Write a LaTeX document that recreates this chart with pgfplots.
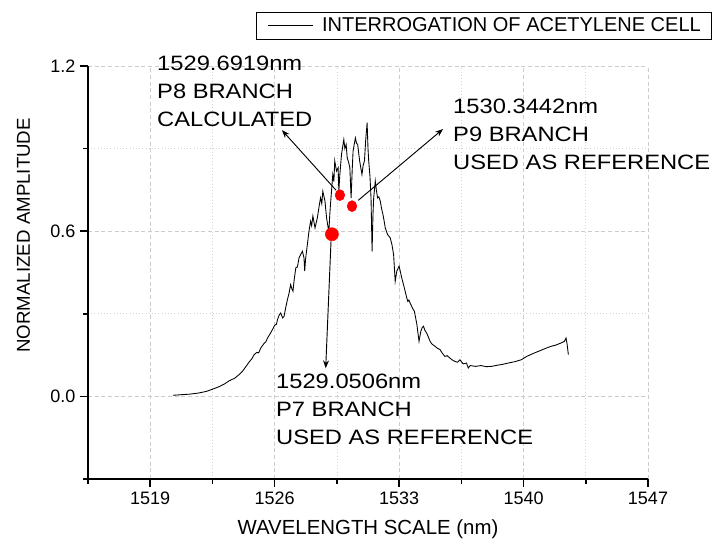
\documentclass[border=0pt]{standalone}
\usepackage{fontspec}
\setmainfont{Liberation Sans}
\newfontfamily\annfont[FakeStretch=1.14]{Liberation Sans}
\usepackage{pgfplots}
\pgfplotsset{compat=1.18}
\usetikzlibrary{arrows.meta}

\newcommand{\annf}{\annfont\fontsize{15.6}{21}\selectfont}

\pgfplotstableread{
x y
1520.28 0.004
1520.7 0.006
1521.2 0.008
1521.7 0.012
1522.15 0.018
1522.5 0.026
1522.9 0.036
1523.2 0.046
1523.45 0.057
1523.75 0.066
1524.0 0.079
1524.2 0.092
1524.39 0.109
1524.6 0.128
1524.7 0.135
1524.85 0.152
1525.0 0.160
1525.1 0.158
1525.22 0.176
1525.4 0.192
1525.5 0.198
1525.6 0.212
1525.75 0.228
1525.87 0.242
1526.0 0.258
1526.1 0.262
1526.16 0.279
1526.25 0.295
1526.34 0.303
1526.45 0.285
1526.53 0.291
1526.62 0.322
1526.72 0.352
1526.8 0.372
1526.9 0.406
1526.97 0.39
1527.03 0.382
1527.1 0.425
1527.19 0.467
1527.28 0.47
1527.37 0.503
1527.46 0.515
1527.56 0.527
1527.65 0.503
1527.69 0.455
1527.74 0.50
1527.84 0.552
1527.93 0.60
1528.02 0.636
1528.08 0.62
1528.15 0.655
1528.27 0.612
1528.4 0.648
1528.5 0.69
1528.58 0.721
1528.65 0.70
1528.71 0.745
1528.83 0.709
1528.92 0.648
1529.01 0.612
1529.05 0.600
1529.1 0.66
1529.14 0.697
1529.27 0.806
1529.33 0.78
1529.38 0.855
1529.48 0.818
1529.57 0.83
1529.61 0.745
1529.66 0.80
1529.76 0.879
1529.89 0.933
1529.95 0.90
1530.02 0.915
1530.08 0.867
1530.16 0.85
1530.23 0.83
1530.30 0.72
1530.36 0.82
1530.41 0.891
1530.54 0.939
1530.6 0.92
1530.67 0.915
1530.78 0.855
1530.91 0.806
1530.98 0.84
1531.05 0.855
1531.12 0.93
1531.2 0.994
1531.25 0.90
1531.29 0.855
1531.36 0.80
1531.42 0.721
1531.48 0.527
1531.53 0.66
1531.57 0.721
1531.66 0.782
1531.72 0.75
1531.79 0.721
1531.86 0.725
1531.94 0.709
1532.02 0.68
1532.09 0.661
1532.15 0.64
1532.22 0.612
1532.35 0.588
1532.5 0.576
1532.6 0.55
1532.69 0.515
1532.78 0.418
1532.87 0.455
1533.0 0.473
1533.15 0.43
1533.25 0.405
1533.34 0.382
1533.42 0.36
1533.49 0.345
1533.55 0.35
1533.62 0.339
1533.75 0.321
1533.86 0.309
1533.93 0.285
1534.0 0.261
1534.12 0.200
1534.22 0.236
1534.3 0.25
1534.37 0.255
1534.45 0.24
1534.55 0.23
1534.65 0.215
1534.74 0.2
1534.85 0.19
1535.02 0.182
1535.15 0.175
1535.3 0.17
1535.45 0.155
1535.58 0.145
1535.7 0.148
1535.86 0.139
1536.0 0.132
1536.14 0.127
1536.28 0.124
1536.42 0.133
1536.6 0.118
1536.79 0.121
1536.89 0.103
1537.0 0.112
1537.3 0.109
1537.6 0.112
1537.9 0.108
1538.19 0.109
1538.5 0.113
1538.8 0.116
1539.13 0.121
1539.5 0.126
1539.87 0.133
1540.2 0.146
1540.62 0.158
1541.0 0.168
1541.3 0.176
1541.55 0.182
1541.8 0.186
1542.11 0.194
1542.3 0.20
1542.39 0.212
1542.45 0.19
1542.52 0.152
}\spectrum

\begin{document}
\begin{tikzpicture}
\begin{axis}[
  width=420pt, height=309.75pt, scale only axis,
  xmin=1515.5, xmax=1547, ymin=-0.3, ymax=1.2,
  axis x line*=bottom, axis y line*=left,
  axis line style={-, line width=1.1pt},
  xtick={1519,1526,1533,1540,1547},
  minor xtick={1515.5,1522.5,1529.5,1536.5,1543.5},
  ytick={0,0.6,1.2},
  minor ytick={-0.3,0.3,0.9},
  tick align=outside,
  major tick length=6pt, minor tick length=3.5pt,
  every tick/.style={black, line width=1.1pt},
  /pgf/number format/assume math mode=true,
  xticklabel style={/pgf/number format/.cd, fixed, 1000 sep={}},
  yticklabel style={/pgf/number format/.cd, fixed, fixed zerofill, precision=1},
  ticklabel style={font=\fontsize{13.5}{15}\selectfont},
  grid=both,
  major grid style={gray!40, dash pattern=on 3pt off 2pt, line width=0.5pt},
  minor grid style={gray!35, dash pattern=on 0.8pt off 1.6pt, line width=0.5pt},
  xlabel={WAVELENGTH SCALE (nm)}, ylabel={NORMALIZED AMPLITUDE},
  xlabel style={font=\fontsize{15.3}{18}\selectfont, at={([yshift=-42pt]axis description cs:0.5,0)}, anchor=base},
  ylabel style={font=\fontsize{14}{17}\selectfont, at={([xshift=-43.5pt]axis description cs:0,0.59)}, anchor=base},
  legend style={at={(1.114,1.131)}, anchor=north east, draw=black, line width=0.6pt,
    font=\fontsize{15}{18}\selectfont, inner xsep=6pt, inner ysep=2pt},
  legend cell align=left,
  legend image code/.code={\draw[#1, line width=0.6pt] (0pt,0pt) -- (34pt,0pt); \path[draw=none] (-2pt,0pt) -- (39pt,0pt);},
  clip=false,
]
\addplot[black, line width=0.65pt] table[x=x, y=y] {\spectrum};
\addlegendentry{INTERROGATION OF ACETYLENE CELL}

\addplot[only marks, mark=*, red, mark size=4.9pt, forget plot] coordinates {(1529.22,0.589)};
\addplot[only marks, mark=*, red, mark size=4.1pt, mark options={xscale=0.88}, forget plot]
  coordinates {(1529.67,0.731) (1530.35,0.691)};

\draw[-{Stealth[length=6pt,width=4.5pt]}, line width=0.7pt] (axis cs:1529.45,0.749) -- (axis cs:1526.41,0.967);
\draw[-{Stealth[length=6pt,width=4.5pt]}, line width=0.7pt] (axis cs:1530.7,0.712) -- (axis cs:1535.47,0.971);
\draw[-{Stealth[length=6pt,width=4.5pt]}, line width=0.7pt] (axis cs:1529.17,0.564) -- (axis cs:1528.87,0.102);

\node[anchor=north west, inner sep=0pt, align=left, font=\annf] at (axis cs:1519.38,1.236) {1529.6919nm\\P8 BRANCH\\CALCULATED};
\node[anchor=north west, inner sep=0pt, align=left, font=\annf] at (axis cs:1536.03,1.08) {1530.3442nm\\P9 BRANCH\\USED AS REFERENCE};
\node[anchor=north west, inner sep=0pt, align=left, font=\annf] at (axis cs:1526.07,0.084) {1529.0506nm\\P7 BRANCH\\USED AS REFERENCE};
\end{axis}
\pgfresetboundingbox
\path ([xshift=-66pt, yshift=-46.5pt]current axis.south west) rectangle ++(535.5pt,405.75pt);
\end{tikzpicture}
\end{document}
